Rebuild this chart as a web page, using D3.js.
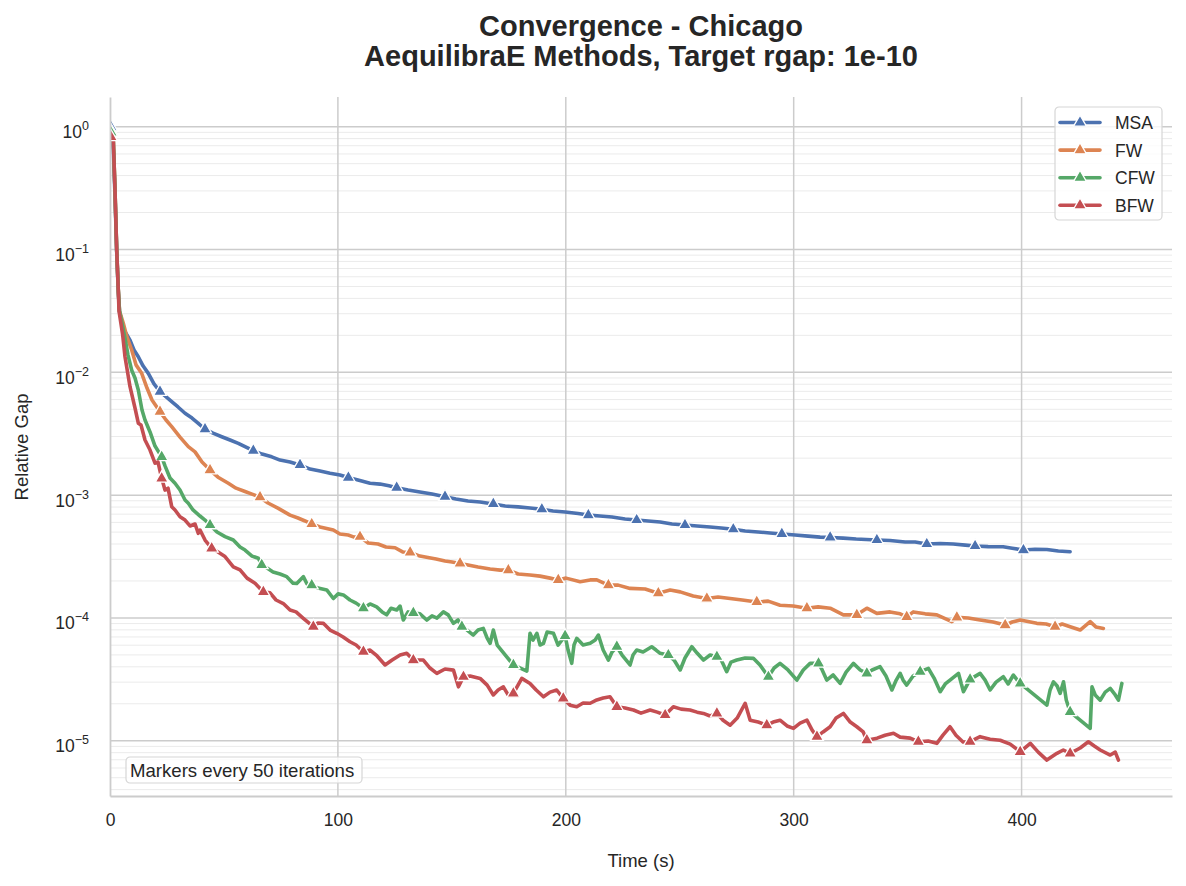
<!DOCTYPE html>
<html>
<head>
<meta charset="utf-8">
<script src="https://cdn.jsdelivr.net/npm/d3@7"></script>
<style>
  body { margin: 0; background: #fff; }
  text { font-family: "Liberation Sans", Arial, sans-serif; fill: #262626; }
</style>
</head>
<body>
<svg id="chart" width="1186" height="886"></svg>
<script>
// [time (s), relative gap]
var msaPoints = [[0.44,0.99],[1.45,0.647],[2.19,0.277],[2.94,0.0955],[3.64,0.0452],[4.17,0.031],[6.14,0.0221],[8.78,0.0183],[10.53,0.0152],[12.42,0.0134],[14.48,0.0113],[16.81,0.0098],[19.31,0.00804],[21.94,0.00695],[24.14,0.00642],[27.08,0.00577],[29.84,0.00522],[32.92,0.00464],[35.99,0.00424],[38.62,0.00386],[41.69,0.00344],[45.2,0.0032],[49.02,0.00299],[52.67,0.00281],[56.31,0.00264],[59.69,0.00246],[62.89,0.0023],[66.71,0.00216],[70.96,0.00205],[74.61,0.00193],[79.0,0.00186],[83.38,0.00176],[87.77,0.00163],[92.16,0.00157],[96.55,0.00151],[100.9,0.00146],[104.6,0.00139],[108.8,0.00133],[114.1,0.00125],[118.5,0.00123],[122.4,0.00119],[125.8,0.00115],[130.8,0.0011],[136.0,0.00106],[141.3,0.00102],[147.0,0.000971],[151.8,0.00093],[157.1,0.000897],[162.4,0.000879],[168.2,0.000847],[173.4,0.000816],[179.1,0.000802],[184.3,0.000786],[189.5,0.000767],[194.4,0.000742],[199.7,0.00073],[205.4,0.000708],[209.9,0.000688],[215.0,0.000676],[220.3,0.000664],[226.0,0.00064],[231.1,0.000627],[236.1,0.000616],[241.4,0.000604],[246.6,0.000582],[252.3,0.000571],[257.6,0.000561],[263.3,0.00055],[268.2,0.00054],[273.5,0.000527],[278.7,0.00051],[284.4,0.000501],[289.6,0.000492],[294.8,0.000483],[300.6,0.000473],[306.3,0.000464],[311.6,0.000455],[316.0,0.000452],[321.7,0.000447],[327.4,0.000439],[331.8,0.000435],[336.5,0.000431],[342.3,0.000427],[348.9,0.000415],[353.3,0.000415],[358.4,0.0004],[364.3,0.000404],[370.0,0.0004],[375.3,0.000392],[379.6,0.000385],[385.3,0.000381],[391.9,0.00038],[395.9,0.00037],[400.8,0.000357],[405.9,0.000363],[411.1,0.000361],[416.1,0.000351],[421.3,0.000346]];

var fwPoints = [[0.44,0.923],[1.45,0.78],[2.19,0.305],[2.94,0.099],[3.64,0.0468],[4.17,0.0316],[5.84,0.0251],[7.33,0.0197],[9.52,0.0152],[11.41,0.0115],[13.91,0.00982],[16.24,0.00745],[18.43,0.00595],[21.94,0.00478],[24.58,0.00409],[27.08,0.00361],[30.72,0.00297],[34.36,0.00248],[37.31,0.00225],[40.38,0.00186],[43.89,0.0016],[47.4,0.0014],[51.92,0.00125],[55.3,0.00114],[59.25,0.00107],[62.32,0.00102],[65.83,0.000962],[69.33,0.000863],[73.86,0.000781],[79.0,0.000688],[82.5,0.000651],[85.58,0.000616],[88.52,0.000582],[92.16,0.00055],[98.0,0.00052],[100.9,0.000483],[104.5,0.000473],[107.1,0.000455],[109.7,0.000458],[113.3,0.000408],[117.6,0.0004],[121.1,0.000378],[125.1,0.000373],[128.6,0.000344],[131.7,0.000342],[136.0,0.000319],[139.5,0.00031],[143.1,0.000302],[147.0,0.000291],[150.1,0.000285],[153.6,0.000278],[157.1,0.00027],[161.5,0.00026],[166.8,0.00025],[171.2,0.000245],[174.8,0.000245],[179.1,0.000228],[184.3,0.000224],[188.7,0.000219],[193.1,0.000211],[196.7,0.000204],[200.1,0.000211],[206.3,0.000197],[210.7,0.000204],[213.6,0.000204],[218.7,0.000185],[223.0,0.000185],[228.2,0.000174],[234.8,0.000172],[240.6,0.000159],[245.8,0.000169],[250.2,0.000163],[255.9,0.000151],[261.9,0.000144],[266.8,0.000148],[272.1,0.000144],[277.4,0.00014],[283.8,0.000135],[288.8,0.000137],[294.0,0.000127],[299.8,0.000125],[305.8,0.00012],[310.7,0.000123],[316.0,0.00012],[321.8,0.000106],[327.7,0.000106],[332.1,0.00012],[336.5,0.000109],[342.3,0.000112],[346.7,0.000108],[349.6,0.000102],[352.5,0.000112],[357.7,0.000108],[362.8,0.000106],[369.4,9.32e-5],[371.6,0.000101],[376.6,0.0001],[381.8,9.62e-5],[387.5,9.27e-5],[392.8,8.75e-5],[395.9,9.27e-5],[399.4,9.62e-5],[406.7,9.04e-5],[410.8,8.92e-5],[414.7,8.48e-5],[417.8,8.92e-5],[421.3,8.48e-5],[425.7,7.97e-5],[430.1,9.32e-5],[432.7,8.43e-5],[435.9,8.22e-5]];

var cfwPoints = [[0.44,0.9],[1.45,0.78],[2.19,0.305],[2.94,0.099],[3.64,0.0468],[4.17,0.0316],[6.58,0.019],[7.9,0.0138],[9.52,0.0104],[10.97,0.009],[12.42,0.00718],[14.04,0.00493],[15.36,0.00409],[17.56,0.00327],[19.75,0.00251],[22.69,0.00205],[24.14,0.00173],[26.33,0.00138],[28.53,0.00125],[30.72,0.0011],[32.92,0.000913],[34.36,0.000858],[36.43,0.000757],[39.5,0.000676],[41.69,0.000627],[43.89,0.000571],[46.96,0.000501],[50.47,0.000459],[54.11,0.000431],[57.06,0.000378],[59.25,0.000357],[62.32,0.000319],[65.08,0.000306],[66.58,0.00027],[68.9,0.000255],[71.54,0.000237],[74.6,0.000228],[77.55,0.000217],[80.32,0.000192],[81.94,0.000191],[84.83,0.000217],[86.46,0.000189],[88.52,0.000185],[91.29,0.000175],[95.1,0.000169],[98.0,0.000144],[100.1,0.000157],[102.4,0.000154],[105.3,0.00014],[108.0,0.000132],[111.2,0.00012],[114.1,0.00013],[117.0,0.000123],[119.4,0.000112],[121.4,0.000106],[123.3,0.00012],[125.8,0.000116],[127.3,0.000125],[128.7,9.62e-5],[130.8,0.000112],[133.1,0.00011],[136.0,0.000108],[139.0,9.62e-5],[141.3,0.000104],[143.5,9.98e-5],[146.3,0.000112],[148.4,0.000106],[150.7,9.04e-5],[152.7,9.62e-5],[154.4,8.48e-5],[156.7,7.97e-5],[159.4,7.26e-5],[161.5,7.97e-5],[163.8,8.22e-5],[165.5,6.86e-5],[166.8,6.22e-5],[168.2,7.97e-5],[169.9,6.02e-5],[177.0,4.14e-5],[182.9,3.69e-5],[184.3,7.5e-5],[185.6,6.61e-5],[187.3,7.5e-5],[188.7,6.02e-5],[190.2,6.21e-5],[191.8,7.68e-5],[194.6,7.5e-5],[196.6,6.02e-5],[199.7,7.13e-5],[201.0,5.48e-5],[202.6,4.27e-5],[203.6,6.02e-5],[204.8,6.82e-5],[207.6,6.02e-5],[210.7,6.21e-5],[212.9,6.61e-5],[214.3,7.26e-5],[216.4,5.48e-5],[218.7,4.54e-5],[220.3,5.28e-5],[222.4,5.83e-5],[224.7,4.99e-5],[228.2,4.14e-5],[229.5,4.99e-5],[231.1,5.48e-5],[233.9,5.28e-5],[237.7,5.83e-5],[239.6,5.48e-5],[241.4,5.15e-5],[245.0,4.99e-5],[247.5,4.54e-5],[250.2,3.77e-5],[252.3,4.72e-5],[255.3,5.83e-5],[257.6,5.18e-5],[260.4,4.54e-5],[263.3,4.99e-5],[266.3,4.83e-5],[268.2,4.54e-5],[270.6,3.65e-5],[272.5,4.37e-5],[275.0,4.54e-5],[278.7,4.72e-5],[282.3,4.69e-5],[285.2,4.14e-5],[288.9,3.32e-5],[291.4,3.91e-5],[294.0,4.27e-5],[297.5,3.77e-5],[301.4,3.12e-5],[304.2,3.77e-5],[307.2,4.27e-5],[310.9,4.27e-5],[312.5,3.77e-5],[314.5,3.12e-5],[317.3,3.43e-5],[320.4,2.93e-5],[323.0,3.62e-5],[326.2,4.27e-5],[329.2,3.77e-5],[332.1,3.54e-5],[334.4,3.77e-5],[337.9,4.01e-5],[340.5,3.37e-5],[343.1,2.59e-5],[345.0,3.12e-5],[346.7,3.54e-5],[348.0,3.12e-5],[349.6,2.84e-5],[352.4,3.37e-5],[355.5,3.65e-5],[359.1,3.89e-5],[361.6,3.24e-5],[364.3,2.51e-5],[366.5,2.9e-5],[368.6,3.12e-5],[372.3,3.54e-5],[374.5,2.51e-5],[377.4,3.16e-5],[381.8,3.54e-5],[384.0,3.12e-5],[386.2,2.59e-5],[388.8,3.0e-5],[392.0,3.32e-5],[394.1,2.9e-5],[396.4,3.43e-5],[398.1,3.12e-5],[399.4,2.93e-5],[411.1,1.95e-5],[412.5,2.59e-5],[414.0,3.02e-5],[415.6,2.79e-5],[416.9,2.43e-5],[418.4,3.02e-5],[419.6,2.15e-5],[421.3,1.72e-5],[430.1,1.26e-5],[430.9,2.75e-5],[432.3,2.36e-5],[434.5,2.14e-5],[436.7,2.49e-5],[438.9,2.67e-5],[441.1,2.36e-5],[442.5,2.14e-5],[444.0,2.93e-5]];

var bfwPoints = [[0.44,0.825],[1.45,0.78],[2.19,0.305],[2.94,0.099],[3.64,0.0468],[3.95,0.0316],[5.57,0.0201],[6.58,0.0134],[8.78,0.00764],[10.97,0.00512],[12.42,0.00385],[13.6,0.00372],[15.36,0.00281],[17.56,0.00233],[19.75,0.00182],[21.07,0.00186],[22.69,0.00137],[24.14,0.0011],[25.46,0.00114],[27.08,0.000805],[28.53,0.000757],[30.72,0.000667],[32.92,0.000627],[35.11,0.000561],[37.31,0.000582],[38.75,0.000489],[39.5,0.00052],[41.7,0.000431],[44.63,0.000369],[47.4,0.000344],[50.47,0.000316],[54.11,0.000261],[57.06,0.000246],[60.13,0.000211],[63.64,0.000192],[67.28,0.000163],[70.22,0.00016],[72.86,0.00014],[76.06,0.000131],[79.0,0.000116],[81.63,0.000112],[84.7,9.98e-5],[89.22,8.48e-5],[91.29,9.09e-5],[93.61,9.04e-5],[96.55,7.97e-5],[99.49,7.5e-5],[102.3,6.99e-5],[105.3,6.4e-5],[108.0,6.02e-5],[111.2,5.31e-5],[114.1,5.48e-5],[117.2,4.9e-5],[120.7,4.14e-5],[123.8,4.54e-5],[127.3,4.99e-5],[130.2,5.15e-5],[133.1,4.54e-5],[137.5,4.54e-5],[140.4,3.91e-5],[143.4,3.54e-5],[147.0,3.84e-5],[150.7,3.76e-5],[152.9,2.75e-5],[155.1,3.32e-5],[158.0,3.37e-5],[162.4,3.22e-5],[165.5,2.84e-5],[168.2,2.36e-5],[170.3,2.59e-5],[172.6,2.75e-5],[174.7,2.36e-5],[177.0,2.43e-5],[180.7,3.22e-5],[184.3,2.93e-5],[187.0,2.59e-5],[190.2,2.28e-5],[193.1,2.49e-5],[196.0,2.59e-5],[198.9,2.21e-5],[201.9,1.95e-5],[204.8,1.89e-5],[207.6,2.03e-5],[210.7,2.02e-5],[213.6,2.15e-5],[216.4,2.23e-5],[219.4,2.28e-5],[222.4,1.89e-5],[226.0,1.85e-5],[229.7,1.78e-5],[233.0,1.68e-5],[237.0,1.78e-5],[240.1,1.71e-5],[243.6,1.62e-5],[247.2,1.89e-5],[250.6,1.81e-5],[254.5,1.78e-5],[257.6,1.71e-5],[260.4,1.67e-5],[263.3,1.59e-5],[266.3,1.67e-5],[269.0,1.47e-5],[272.1,1.34e-5],[275.2,1.53e-5],[278.7,2.02e-5],[280.9,1.47e-5],[284.4,1.42e-5],[288.2,1.34e-5],[291.0,1.42e-5],[294.0,1.47e-5],[297.1,1.32e-5],[299.9,1.26e-5],[302.8,1.39e-5],[305.8,1.47e-5],[308.1,1.22e-5],[310.2,1.08e-5],[312.9,1.18e-5],[316.0,1.30e-5],[318.6,1.53e-5],[321.8,1.67e-5],[324.8,1.42e-5],[327.7,1.30e-5],[330.5,1.18e-5],[332.1,1.01e-5],[336.6,1.05e-5],[340.1,1.11e-5],[343.8,1.15e-5],[346.7,1.07e-5],[351.1,1.05e-5],[354.7,9.82e-6],[359.0,9.95e-6],[362.8,9.53e-6],[365.5,1.11e-5],[368.6,1.30e-5],[371.2,1.11e-5],[374.3,9.77e-6],[377.4,9.82e-6],[381.8,1.08e-5],[386.2,1.03e-5],[390.6,1.01e-5],[395.0,9.4e-6],[399.4,8.13e-6],[403.8,9.53e-6],[407.3,8.08e-6],[411.1,6.96e-6],[415.5,7.9e-6],[418.3,8.41e-6],[421.3,7.9e-6],[425.7,8.73e-6],[429.3,9.82e-6],[431.9,9.06e-6],[434.5,8.41e-6],[438.9,7.65e-6],[441.1,8.08e-6],[442.5,6.96e-6]];

// times at which a marker is drawn (every 50 iterations)
var msaMarkerTimes = [0.44,21.94,41.69,62.89,83.38,104.6,125.8,147.0,168.2,189.5,209.9,231.1,252.3,273.5,294.8,316.0,336.5,358.4,379.6,400.8];
var fwMarkerTimes = [0.44,21.94,43.89,65.83,88.52,109.7,131.7,153.6,174.8,196.7,218.7,240.6,261.9,283.8,305.8,327.7,349.6,371.6,392.8,414.7];
var cfwMarkerTimes = [0.44,22.69,43.89,66.58,88.52,111.2,133.1,154.4,177.0,199.7,222.4,245.0,266.3,288.9,310.9,332.1,355.5,377.4,399.4,421.3];
var bfwMarkerTimes = [0.44,22.69,44.63,67.28,89.22,111.2,133.1,155.1,177.0,198.9,222.4,243.6,266.3,288.2,310.2,332.1,354.7,377.4,399.4,421.3];

var methodNames = ['MSA', 'FW', 'CFW', 'BFW'];
var methodColors = ['#4c72b0', '#dd8452', '#55a868', '#c44e52'];
var xTickValues = [0, 100, 200, 300, 400];
var yTickValues = [1e-5, 1e-4, 1e-3, 1e-2, 1e-1, 1];

var series = [
  {name: methodNames[0], color: methodColors[0], points: msaPoints, markers: msaMarkerTimes},
  {name: methodNames[1], color: methodColors[1], points: fwPoints, markers: fwMarkerTimes},
  {name: methodNames[2], color: methodColors[2], points: cfwPoints, markers: cfwMarkerTimes},
  {name: methodNames[3], color: methodColors[3], points: bfwPoints, markers: bfwMarkerTimes}
];

var plot = {left: 110, right: 1172, top: 97, bottom: 796};
var svg = d3.select('#chart');

var x = d3.scaleLinear().domain([0, 466]).range([plot.left, plot.right]);
var y = d3.scaleLog().domain([3.55e-6, 1.745]).range([plot.bottom, plot.top]);

// minor grid (2..9 x each decade)
var minorValues = [];
for (var k = -6; k <= 0; k++) {
  for (var m = 2; m <= 9; m++) {
    var v = m * Math.pow(10, k);
    if (v > y.domain()[0] && v < y.domain()[1]) minorValues.push(v);
  }
}
svg.append('g').selectAll('line').data(minorValues).enter().append('line')
   .attr('x1', plot.left).attr('x2', plot.right)
   .attr('y1', function(d) { return y(d); }).attr('y2', function(d) { return y(d); })
   .attr('stroke', '#ebebeb').attr('stroke-width', 1);

// major grid
svg.append('g').selectAll('line').data(yTickValues).enter().append('line')
   .attr('x1', plot.left).attr('x2', plot.right)
   .attr('y1', function(d) { return y(d); }).attr('y2', function(d) { return y(d); })
   .attr('stroke', '#cccccc').attr('stroke-width', 1.5);
svg.append('g').selectAll('line').data(xTickValues.slice(1)).enter().append('line')
   .attr('x1', function(d) { return x(d); }).attr('x2', function(d) { return x(d); })
   .attr('y1', plot.top).attr('y2', plot.bottom)
   .attr('stroke', '#cccccc').attr('stroke-width', 1.5);

// lines and markers, clipped to the axes
svg.append('clipPath').attr('id', 'plotClip').append('rect')
   .attr('x', plot.left).attr('y', plot.top)
   .attr('width', plot.right - plot.left).attr('height', plot.bottom - plot.top);

var lineGen = d3.line()
  .x(function(d) { return x(d[0]); })
  .y(function(d) { return y(d[1]); });

var triangle = d3.symbol().type(d3.symbolTriangle).size(72);

var dataLayer = svg.append('g').attr('clip-path', 'url(#plotClip)');
series.forEach(function(s) {
  dataLayer.append('path')
     .datum(s.points)
     .attr('d', lineGen)
     .attr('fill', 'none')
     .attr('stroke', s.color)
     .attr('stroke-width', 3.6)
     .attr('stroke-linejoin', 'round')
     .attr('stroke-linecap', 'round');

  var markerPoints = s.markers.map(function(t) {
    return s.points.find(function(p) { return Math.abs(p[0] - t) < 0.05; });
  });
  dataLayer.append('g').selectAll('path').data(markerPoints).enter().append('path')
     .attr('d', triangle)
     .attr('transform', function(d) { return 'translate(' + x(d[0]) + ',' + y(d[1]) + ')'; })
     .attr('fill', s.color)
     .attr('stroke', '#fff')
     .attr('stroke-width', 1.3);
});

// axes
var xAxis = svg.append('g')
   .attr('transform', 'translate(0,' + plot.bottom + ')')
   .call(d3.axisBottom(x).tickValues(xTickValues).tickSize(0).tickSizeOuter(0).tickPadding(18));
var yAxis = svg.append('g')
   .attr('transform', 'translate(' + plot.left + ',0)')
   .call(d3.axisLeft(y).tickValues(yTickValues).tickSize(0).tickSizeOuter(0).tickPadding(21)
         .tickFormat(function() { return ''; }));

[xAxis, yAxis].forEach(function(ax) {
  ax.select('.domain').attr('stroke', '#cccccc').attr('stroke-width', 1.8);
  ax.selectAll('text')
    .style('font-family', '"Liberation Sans", Arial, sans-serif')
    .style('font-size', '17.5px')
    .attr('fill', '#262626');
});

yAxis.selectAll('.tick text').each(function(d) {
  var el = d3.select(this);
  var exp = Math.round(Math.log10(d));
  el.attr('dy', '11px');
  el.append('tspan').text('10');
  el.append('tspan')
    .attr('dy', '-8')
    .style('font-size', '12.5px')
    .text(exp < 0 ? '\u2212' + (-exp) : String(exp));
});

// titles and axis labels
svg.append('text').attr('x', 641).attr('y', 36).attr('text-anchor', 'middle')
   .style('font-size', '29px').style('font-weight', 'bold')
   .text('Convergence - Chicago');
svg.append('text').attr('x', 641).attr('y', 66).attr('text-anchor', 'middle')
   .style('font-size', '29px').style('font-weight', 'bold')
   .text('AequilibraE Methods, Target rgap: 1e-10');

svg.append('text').attr('x', 641).attr('y', 867).attr('text-anchor', 'middle')
   .style('font-size', '18.5px').text('Time (s)');
svg.append('text').attr('transform', 'translate(28,447) rotate(-90)').attr('text-anchor', 'middle')
   .style('font-size', '18.5px').text('Relative Gap');

// legend
var legend = svg.append('g').attr('transform', 'translate(1055,107)');
legend.append('rect').attr('width', 107).attr('height', 113).attr('rx', 4)
   .attr('fill', '#fff').attr('fill-opacity', 0.8)
   .attr('stroke', '#d6d6d6').attr('stroke-width', 1.2);
var legendRows = legend.selectAll('g.row').data(series).enter().append('g')
   .attr('class', 'row')
   .attr('transform', function(d, i) { return 'translate(0,' + (15.5 + i * 27.6) + ')'; });
legendRows.append('line').attr('x1', 5).attr('x2', 45)
   .attr('stroke', function(d) { return d.color; })
   .attr('stroke-width', 3.6).attr('stroke-linecap', 'round');
legendRows.append('path').attr('d', triangle).attr('transform', 'translate(25,0)')
   .attr('fill', function(d) { return d.color; })
   .attr('stroke', '#fff').attr('stroke-width', 1.3);
legendRows.append('text').attr('x', 60).attr('y', 6.5)
   .style('font-size', '17.5px').text(function(d) { return d.name; });

// annotation box
var note = svg.append('g').attr('transform', 'translate(126,757)');
note.append('rect').attr('width', 236).attr('height', 26).attr('rx', 4)
   .attr('fill', '#fff').attr('fill-opacity', 0.8)
   .attr('stroke', '#d6d6d6').attr('stroke-width', 1.2);
note.append('text').attr('x', 4).attr('y', 19.5)
   .style('font-size', '18.6px').text('Markers every 50 iterations');
</script>
</body>
</html>
